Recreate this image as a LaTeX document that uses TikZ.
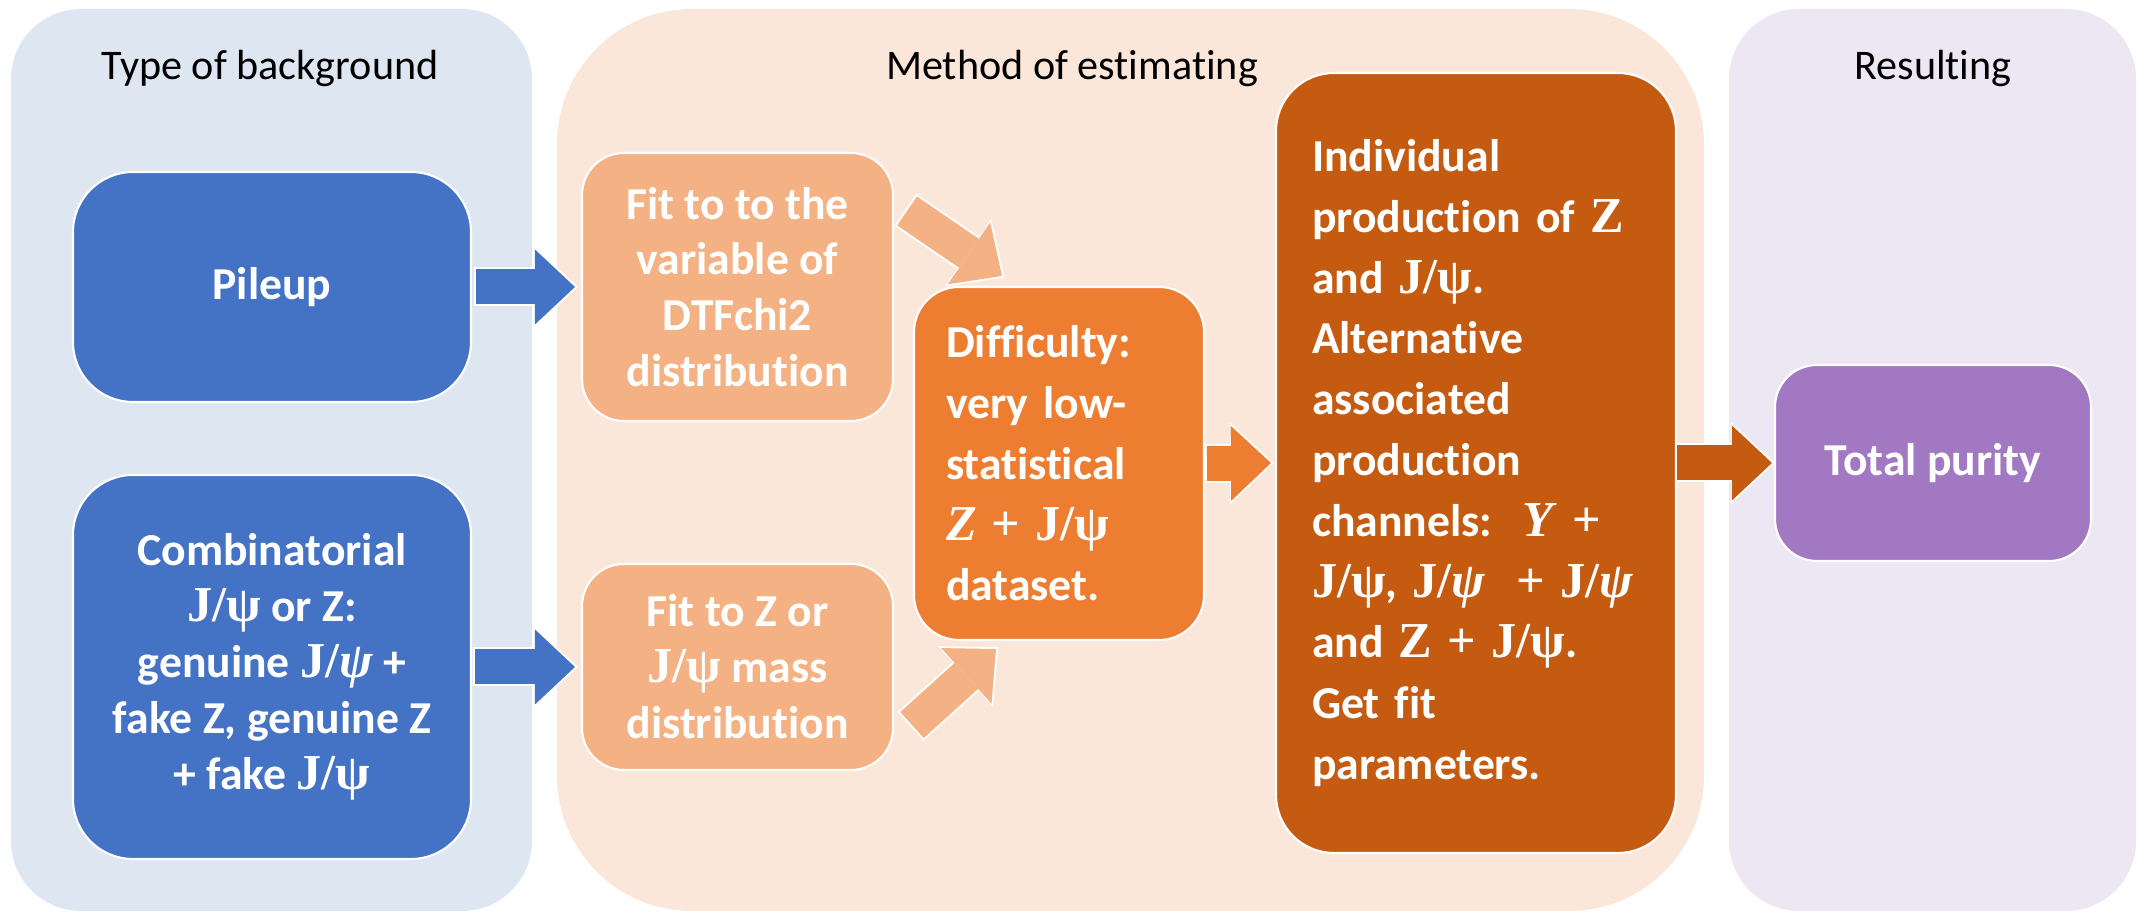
\documentclass[tikz,border=0pt]{standalone}
\usepackage{fontspec}
\setmainfont{Carlito}[Ligatures=NoCommon]
\newfontfamily\symfont{Liberation Serif}[Scale=1.1]
\usetikzlibrary{arrows.meta}

\definecolor{bgblue}{HTML}{DEE6F2}
\definecolor{bgorange}{HTML}{FBE7DA}
\definecolor{bgpurple}{HTML}{EDE7F4}
\definecolor{blueone}{HTML}{4472C4}
\definecolor{orangeone}{HTML}{F4B183}
\definecolor{orangetwo}{HTML}{ED7D31}
\definecolor{orangethree}{HTML}{C55A11}
\definecolor{purpleone}{HTML}{A178C1}

\newcommand{\Jpsi}{{\symfont J/ψ}}
\newcommand{\Jpsit}{{\symfont J/\textit{ψ}}}
\newcommand{\boxfont}{\fontsize{13}{15.9}\selectfont\bfseries}
\newcommand{\widefont}{\fontsize{13}{17.3}\selectfont\bfseries}

\tikzset{
    panel/.style={rounded corners=0.7cm, minimum height=9.02cm, inner sep=0pt},
    paneltitle/.style={font=\fontsize{12}{14}\selectfont, text=black},
    box/.style={draw=white, line width=0.6pt, text=white, font=\boxfont, align=center, inner sep=0pt},
    fatarrow/.style={line width=0.35cm, -{Triangle[length=0.40cm, width=0.75cm, line width=0pt]},
        preaction={draw=white, line width=0.39cm, shorten <=-0.02cm, shorten >=-0.03cm,
            -{Triangle[length=0.44cm, width=0.82cm, line width=0pt]}}}
}

\begin{document}
\begin{tikzpicture}
    \useasboundingbox (0,0) rectangle (21.47,9.13);
    % the three columns
    \node[panel, fill=bgblue, minimum width=5.21cm] (typepanel) at (2.715,4.53) {};
    \node[panel, fill=bgorange, rounded corners=1.35cm, minimum width=11.47cm] (methodpanel) at (11.305,4.53) {};
    \node[panel, fill=bgpurple, minimum width=4.07cm] (resultpanel) at (19.325,4.53) {};
    \node[paneltitle] (typetitle) at (2.70,8.44) {Type of background};
    \node[paneltitle] (methodtitle) at (10.72,8.44) {Method of estimating};
    \node[paneltitle] (resulttitle) at (19.33,8.44) {Resulting};

    % boxes
    \node[box, fill=blueone, rounded corners=0.6cm, minimum width=3.98cm, minimum height=2.30cm] (pileup) at (2.72,6.26) {Pileup};
    \node[box, fill=blueone, rounded corners=0.6cm, minimum width=3.98cm, minimum height=3.84cm] (combi) at (2.72,2.46)
        {Combinatorial\\ \Jpsi{} or Z:\\ genuine \Jpsit{} +\\ fake Z, genuine Z\\ + fake \Jpsi};
    \node[box, fill=orangeone, rounded corners=0.42cm, minimum width=3.11cm, minimum height=2.68cm] (fitchi) at (7.375,6.26)
        {Fit to to the\\ variable of\\ DTFchi2\\ distribution};
    \node[box, fill=orangeone, rounded corners=0.42cm, minimum width=3.11cm, minimum height=2.06cm] (fitmass) at (7.375,2.46)
        {Fit to Z or\\ \Jpsi{} mass\\ distribution};
    \node[box, fill=orangetwo, rounded corners=0.45cm, minimum width=2.90cm, minimum height=3.53cm,
        font=\widefont, align=left, text width=2.26cm, inner xsep=0.32cm] (difficulty) at (10.59,4.495)
        {Difficulty:\\ very low-\\ statistical\\ {\symfont\textit{Z} + J/ψ}\\ dataset.};
    \node[box, fill=orangethree, rounded corners=0.58cm, minimum width=4.00cm, minimum height=7.80cm,
        font=\widefont, align=left, text width=3.28cm, inner xsep=0.36cm] (indiv) at (14.76,4.50)
        {Individual\\ production of {\symfont Z}\\ and \Jpsi.\\ Alternative\\ associated\\ production\\
         channels:\ \ {\symfont\textit{Υ} +}\\ \Jpsi, \Jpsit{}\ \ {\symfont +} \Jpsit\\ and {\symfont Z +} \Jpsi.\\
         Get fit\\ parameters.};
    \node[box, fill=purpleone, rounded corners=0.42cm, minimum width=3.16cm, minimum height=1.96cm] (purity) at (19.33,4.50) {Total purity};

    % block arrows
    \draw[fatarrow, blueone] ([xshift=0.04cm]pileup.east) -- ([xshift=-0.06cm]fitchi.west);
    \draw[fatarrow, blueone] ([xshift=0.03cm]combi.east) -- ([xshift=-0.06cm]fitmass.west);
    \draw[fatarrow, orangeone] ([xshift=0.13cm,yshift=-0.59cm]fitchi.north east) -- ([xshift=-0.57cm,yshift=0.10cm]difficulty.north);
    \draw[fatarrow, orangeone] ([xshift=0.18cm,yshift=0.46cm]fitmass.south east) -- ([xshift=-0.63cm,yshift=-0.08cm]difficulty.south);
    \draw[fatarrow, orangetwo] ([xshift=0.02cm]difficulty.east) -- ([xshift=-0.04cm]indiv.west);
    \draw[fatarrow, orangethree] (indiv.east) -- ([xshift=-0.02cm]purity.west);
\end{tikzpicture}
\end{document}
